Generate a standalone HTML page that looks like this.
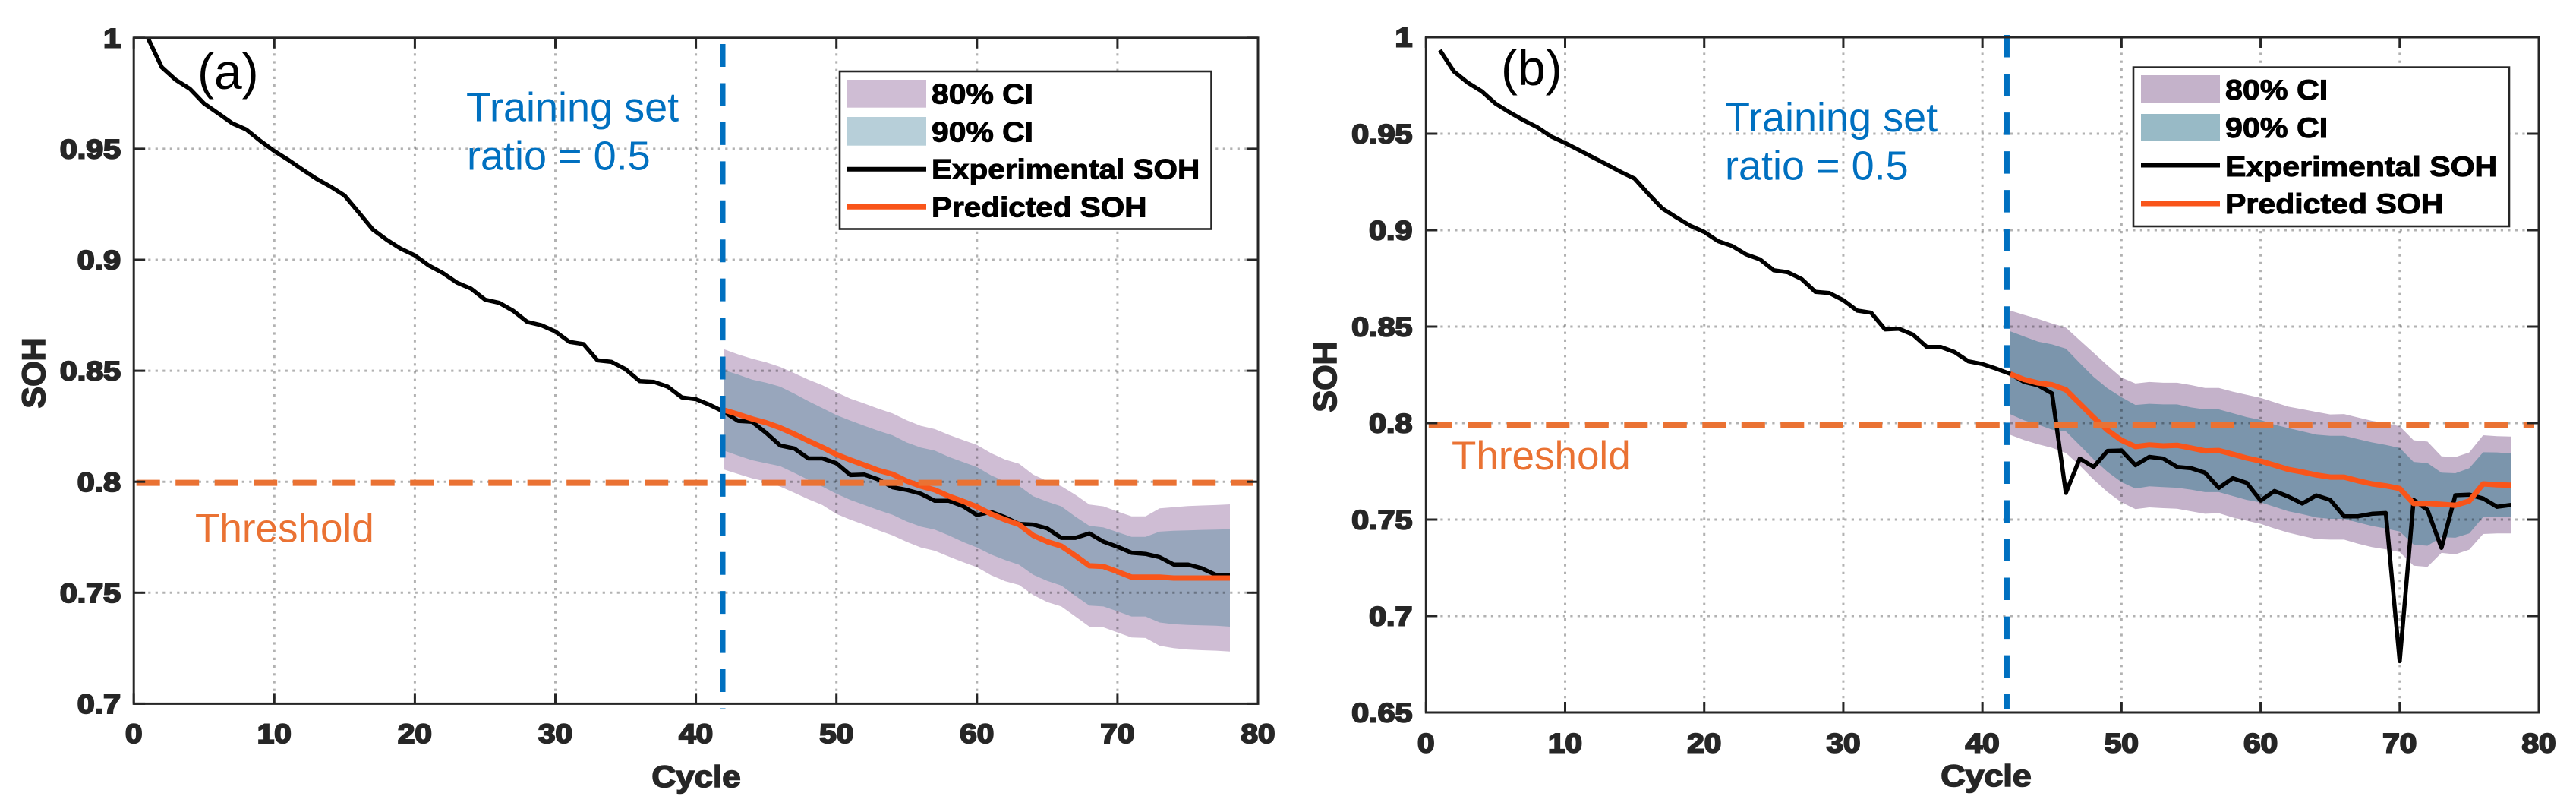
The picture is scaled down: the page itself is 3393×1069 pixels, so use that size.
<!DOCTYPE html>
<html lang="en">
<head>
<meta charset="utf-8">
<title>SOH prediction charts</title>
<style>
html,body{margin:0;padding:0;background:#fff;width:3393px;height:1069px;overflow:hidden}
svg{display:block}
text{font-family:"Liberation Sans",Arial,sans-serif}
.tick{font-size:35.5px;font-weight:bold;fill:#262626;stroke:#262626;stroke-width:2px}
.axt{font-weight:bold;fill:#262626;stroke:#262626;stroke-width:1.6px}
.leg{font-size:37.5px;font-weight:bold;fill:#000;stroke:#000;stroke-width:1px}
.blue{font-size:54px;fill:#0070c0}
.org{font-size:53px;fill:#ea7233}
.tag{font-size:66px;fill:#000}
</style>
</head>
<body>
<svg id="figure" xmlns="http://www.w3.org/2000/svg" width="3393" height="1069" viewBox="0 0 3393 1069">
  <rect x="0" y="0" width="3393" height="1069" fill="#fff"/>

  <g id="panel-a">
    <g id="a-bands"></g>
    <g id="a-grid"></g>
    <g id="a-lines"></g>
    <g id="a-refs"></g>
    <g id="a-ticks"></g>
    <rect x="176.2" y="49.8" width="1480.8" height="876.6" fill="none" stroke="#262626" stroke-width="3"/>
    <g id="a-labels"></g>
    <text class="axt" font-size="40" text-anchor="middle" transform="translate(917,1036) scale(1.1,1)">Cycle</text>
    <text class="axt" font-size="43" text-anchor="middle" transform="translate(59,491) rotate(-90)">SOH</text>
    <text class="tag" x="260" y="117">(a)</text>
    <text class="blue" x="614" y="159.5">Training set</text>
    <text class="blue" x="615" y="223.5">ratio = 0.5</text>
    <text class="org" x="257" y="713.5">Threshold</text>
    <g>
      <rect x="1106" y="94" width="489.5" height="207.5" fill="#fff" stroke="#262626" stroke-width="2.6"/>
      <rect x="1116" y="105" width="104" height="36.7" fill="#cfbdd4"/>
      <rect x="1116" y="154" width="104" height="37.7" fill="#b7cfd9"/>
      <line x1="1116" x2="1220" y1="222.7" y2="222.7" stroke="#000" stroke-width="6"/>
      <line x1="1116" x2="1220" y1="272.3" y2="272.3" stroke="#f9551a" stroke-width="7"/>
      <text class="leg" transform="translate(1227,136.7) scale(1.09,1)">80% CI</text>
      <text class="leg" transform="translate(1227,186.7) scale(1.09,1)">90% CI</text>
      <text class="leg" transform="translate(1227,235.7) scale(1.08,1)">Experimental SOH</text>
      <text class="leg" transform="translate(1227,285.7) scale(1.08,1)">Predicted SOH</text>
    </g>
  </g>

  <g id="panel-b">
    <g id="b-bands"></g>
    <g id="b-grid"></g>
    <g id="b-lines"></g>
    <g id="b-refs"></g>
    <g id="b-ticks"></g>
    <rect x="1878.3" y="49" width="1465.7" height="889" fill="none" stroke="#262626" stroke-width="3"/>
    <g id="b-labels"></g>
    <text class="axt" font-size="40" text-anchor="middle" transform="translate(2616,1035) scale(1.12,1)">Cycle</text>
    <text class="axt" font-size="43" text-anchor="middle" transform="translate(1760,496) rotate(-90)">SOH</text>
    <text class="tag" x="1977" y="112">(b)</text>
    <text class="blue" x="2272" y="173">Training set</text>
    <text class="blue" x="2272" y="236.5">ratio = 0.5</text>
    <text class="org" x="1912" y="618">Threshold</text>
    <g>
      <rect x="2810" y="88.6" width="495" height="209.4" fill="#fff" stroke="#262626" stroke-width="2.6"/>
      <rect x="2820" y="99" width="104" height="36" fill="#c4b2ca"/>
      <rect x="2820" y="150" width="104" height="36" fill="#98bac6"/>
      <line x1="2820" x2="2924" y1="217.5" y2="217.5" stroke="#000" stroke-width="6"/>
      <line x1="2820" x2="2924" y1="268" y2="268" stroke="#f9551a" stroke-width="7"/>
      <text class="leg" transform="translate(2931,131) scale(1.1,1)">80% CI</text>
      <text class="leg" transform="translate(2931,181) scale(1.1,1)">90% CI</text>
      <text class="leg" transform="translate(2931,232) scale(1.095,1)">Experimental SOH</text>
      <text class="leg" transform="translate(2931,281) scale(1.095,1)">Predicted SOH</text>
    </g>
  </g>
</svg>

<script>
// ---- shared axis labels ----
const xTickLabels = ['0','10','20','30','40','50','60','70','80'];
const yTickLabelsA = ['0.7','0.75','0.8','0.85','0.9','0.95','1'];
const yTickLabelsB = ['0.65','0.7','0.75','0.8','0.85','0.9','0.95','1'];
const predictionStartCycle = 42;
const thresholdA = 0.7995;
const thresholdB = 0.7992;
const trainingSplitA = 41.9;
const trainingSplitB = 41.75;

// ---- panel (a): experimental covers cycles 1..78, the rest cycles 42..78 ----
const experimentalA = [1.0,0.9867,0.981,0.977,0.9704,0.966,0.9615,0.9587,0.9536,0.949,0.945,0.9407,0.9365,0.933,0.929,0.9214,0.9137,0.909,0.905,0.902,0.8974,0.894,0.8897,0.887,0.882,0.8806,0.877,0.872,0.8705,0.8677,0.863,0.862,0.8547,0.854,0.8507,0.8453,0.845,0.8428,0.838,0.8372,0.8346,0.8315,0.8274,0.827,0.822,0.8163,0.815,0.8105,0.8105,0.8083,0.803,0.8032,0.801,0.7975,0.7963,0.7946,0.7914,0.7914,0.789,0.785,0.7864,0.784,0.781,0.7807,0.779,0.7747,0.7747,0.7767,0.773,0.7707,0.768,0.7675,0.766,0.7627,0.7627,0.761,0.758,0.758];
const predictedA = [0.8323,0.8304,0.8283,0.8266,0.8243,0.8215,0.8184,0.8155,0.8123,0.8098,0.8075,0.8051,0.8034,0.8003,0.798,0.7963,0.7935,0.7912,0.7887,0.7855,0.7829,0.7807,0.7758,0.773,0.771,0.7667,0.7621,0.7618,0.7595,0.757,0.757,0.757,0.7566,0.7566,0.7566,0.7566,0.7566];
const upper80A = [0.8597,0.8574,0.8554,0.8538,0.8517,0.8489,0.846,0.8435,0.8403,0.8374,0.8352,0.8329,0.8308,0.8277,0.8252,0.8237,0.8211,0.8188,0.8166,0.8129,0.81,0.8081,0.8032,0.8003,0.798,0.7941,0.7897,0.7889,0.7866,0.7844,0.7844,0.788,0.7885,0.789,0.7893,0.7895,0.7898];
const lower80A = [0.8055,0.8035,0.8015,0.8001,0.7978,0.795,0.7921,0.7895,0.7855,0.7829,0.7806,0.7781,0.7758,0.7729,0.7704,0.7689,0.7663,0.7638,0.7615,0.7579,0.7552,0.7535,0.749,0.7458,0.7438,0.7393,0.7347,0.7344,0.7321,0.7298,0.7296,0.7261,0.725,0.7244,0.7241,0.7239,0.7235];
const upper90A = [0.8503,0.8483,0.846,0.8446,0.8428,0.8397,0.8363,0.8332,0.83,0.8275,0.8252,0.8229,0.8209,0.8177,0.8154,0.814,0.8112,0.8089,0.8066,0.8029,0.8001,0.7981,0.7935,0.791,0.7889,0.7843,0.7801,0.7794,0.7773,0.7752,0.7752,0.7775,0.7779,0.7781,0.7783,0.7784,0.7786];
const lower90A = [0.814,0.8118,0.8097,0.8083,0.807,0.804,0.8009,0.7978,0.7946,0.7918,0.7895,0.7872,0.7851,0.7821,0.7798,0.7784,0.7758,0.7729,0.7704,0.7672,0.7647,0.7626,0.7581,0.7553,0.7532,0.7486,0.7442,0.7438,0.7416,0.7393,0.7393,0.7366,0.7358,0.7355,0.7353,0.7351,0.7347];

// ---- panel (b) ----
const experimentalB = [0.9933,0.9823,0.9764,0.972,0.9656,0.9611,0.957,0.9533,0.9485,0.9452,0.9415,0.9377,0.934,0.9302,0.9267,0.9187,0.9112,0.9066,0.9023,0.8991,0.8943,0.8918,0.8875,0.8849,0.8792,0.8782,0.8747,0.868,0.8674,0.8637,0.8583,0.8572,0.8486,0.8489,0.8459,0.8395,0.8395,0.8368,0.832,0.8306,0.8282,0.8255,0.8213,0.8196,0.8154,0.7638,0.7816,0.7773,0.7856,0.7858,0.7782,0.7825,0.7816,0.7773,0.7766,0.7743,0.7664,0.7714,0.769,0.7598,0.7648,0.7619,0.7583,0.7625,0.7602,0.7517,0.7517,0.753,0.7534,0.6766,0.7602,0.755,0.7353,0.7626,0.7629,0.7609,0.7566,0.7576];
const predictedB = [0.8255,0.8226,0.8208,0.8199,0.8173,0.8101,0.8029,0.7963,0.7911,0.7878,0.7887,0.7882,0.7885,0.7871,0.7856,0.7858,0.7839,0.7819,0.7803,0.7782,0.776,0.7747,0.7731,0.772,0.772,0.7701,0.7685,0.7675,0.7661,0.7583,0.7583,0.7579,0.7574,0.7596,0.7685,0.768,0.7678];
const upper80B = [0.8583,0.8561,0.854,0.8516,0.8495,0.8429,0.8364,0.8298,0.8236,0.8205,0.8213,0.8209,0.8209,0.8197,0.8182,0.8182,0.8163,0.8147,0.8131,0.8108,0.8085,0.8072,0.8058,0.8045,0.8047,0.8029,0.8012,0.8,0.7983,0.7911,0.7904,0.7828,0.7824,0.7848,0.7937,0.7932,0.793];
const lower80B = [0.7939,0.7912,0.789,0.7872,0.7845,0.778,0.7707,0.7642,0.7589,0.7554,0.7563,0.7559,0.7556,0.7543,0.753,0.7533,0.7511,0.7494,0.7478,0.7454,0.7432,0.7415,0.7399,0.7396,0.7396,0.7375,0.7357,0.7346,0.7331,0.7261,0.7255,0.7327,0.732,0.7344,0.7425,0.7428,0.7428];
const upper90B = [0.8476,0.8449,0.8422,0.8408,0.8386,0.8311,0.8239,0.818,0.8134,0.8094,0.81,0.8097,0.8097,0.8081,0.8071,0.8071,0.8051,0.8031,0.8016,0.7992,0.7974,0.7957,0.794,0.7934,0.7934,0.7917,0.79,0.7887,0.7871,0.7799,0.7793,0.7743,0.774,0.7766,0.7849,0.7848,0.7843];
const lower90B = [0.8046,0.8014,0.7992,0.7966,0.7957,0.7885,0.7812,0.7747,0.7694,0.7661,0.7672,0.7668,0.7665,0.7655,0.7642,0.7642,0.7622,0.7602,0.7589,0.7566,0.7543,0.7528,0.7511,0.7504,0.7504,0.7485,0.7467,0.7454,0.7438,0.737,0.7364,0.7409,0.7406,0.7428,0.7513,0.7513,0.7513];

const SVGNS = 'http://www.w3.org/2000/svg';

function make(tag, parent, attrs) {
  const el = document.createElementNS(SVGNS, tag);
  for (const k in attrs) el.setAttribute(k, attrs[k]);
  parent.appendChild(el);
  return el;
}

function linePath(xs, ys) {
  return xs.map((x, i) => (i ? 'L' : 'M') + x.toFixed(1) + ' ' + ys[i].toFixed(1)).join(' ');
}

function drawPanel(p) {
  const xScale = c => p.left + (c - 0) * (p.right - p.left) / 80;
  const yScale = v => p.bottom - (v - p.yMin) * (p.bottom - p.top) / (1 - p.yMin);
  const bandCycles = p.predicted.map((_, i) => predictionStartCycle + i);

  function band(upper, lower, fill, name) {
    const top = upper.map((v, i) => (i ? 'L' : 'M') + xScale(bandCycles[i]).toFixed(1) + ' ' + yScale(v).toFixed(1));
    const bot = lower.map((v, i) => 'L' + xScale(bandCycles[i]).toFixed(1) + ' ' + yScale(v).toFixed(1)).reverse();
    const el = make('path', p.bands, { d: top.concat(bot).join(' ') + ' Z', fill: fill });
    
    
  }
  band(p.upper80, p.lower80, p.color80, 'band-80-ci');
  band(p.upper90, p.lower90, p.color90, 'band-90-ci');

  // grid
  xTickLabels.forEach(lbl => {
    const v = Number(lbl);
    if (v === 0 || v === 80) return;
    const el = make('line', p.grid, { x1: xScale(v), x2: xScale(v), y1: p.top, y2: p.bottom, stroke: '#000', 'stroke-opacity': 0.3, 'stroke-width': 3, 'stroke-dasharray': '3.2 7' });
    
    
  });
  p.yLabels.forEach(lbl => {
    const v = Number(lbl);
    if (v === p.yMin || v === 1) return;
    const el = make('line', p.grid, { x1: p.left, x2: p.right, y1: yScale(v), y2: yScale(v), stroke: '#000', 'stroke-opacity': 0.3, 'stroke-width': 3, 'stroke-dasharray': '3.2 6.3' });
    
    
  });

  // series
  const expXs = p.experimental.map((_, i) => xScale(i + 1));
  const expYs = p.experimental.map(v => yScale(v));
  const expLine = make('path', p.lines, { d: linePath(expXs, expYs), fill: 'none', stroke: '#000', 'stroke-width': 5.5, 'stroke-linejoin': 'round' });
  
  

  const predLine = make('path', p.lines, { d: linePath(bandCycles.map(xScale), p.predicted.map(yScale)), fill: 'none', stroke: '#f9551a', 'stroke-width': 7, 'stroke-linejoin': 'round' });
  
  

  // reference lines
  const th = make('line', p.refs, { x1: p.left + 3.5, x2: p.right - 6, y1: yScale(p.threshold), y2: yScale(p.threshold), stroke: '#ea7233', 'stroke-width': 8, 'stroke-dasharray': '31 20.5' });
  
  
  const sp = make('line', p.refs, { x1: xScale(p.split), x2: xScale(p.split), y1: p.splitTop, y2: p.splitBottom, stroke: '#0070c0', 'stroke-width': 7.5, 'stroke-dasharray': p.splitDash });
  
  

  // ticks and tick labels
  xTickLabels.forEach(lbl => {
    const x = xScale(Number(lbl));
    const t1 = make('line', p.ticks, { x1: x, x2: x, y1: p.bottom, y2: p.bottom - 14, stroke: '#262626', 'stroke-width': 3 });
    
    
    const t2 = make('line', p.ticks, { x1: x, x2: x, y1: p.top, y2: p.top + 14, stroke: '#262626', 'stroke-width': 3 });
    
    
    const tx = make('text', p.labels, { class: 'tick', 'text-anchor': 'middle', transform: 'translate(' + x + ',' + p.xLabelY + ') scale(1.14,1)' });
    
    
    tx.textContent = lbl;
  });
  p.yLabels.forEach(lbl => {
    const y = yScale(Number(lbl));
    const t1 = make('line', p.ticks, { x1: p.left, x2: p.left + 15, y1: y, y2: y, stroke: '#262626', 'stroke-width': 3 });
    
    
    const t2 = make('line', p.ticks, { x1: p.right, x2: p.right - 15, y1: y, y2: y, stroke: '#262626', 'stroke-width': 3 });
    
    
    const tx = make('text', p.labels, { class: 'tick', 'text-anchor': 'end', transform: 'translate(' + p.yLabelX + ',' + (y + 12.6) + ') scale(1.16,1)' });
    
    
    tx.textContent = lbl;
  });
}

drawPanel({
  left: 176.2, right: 1657, top: 49.8, bottom: 926.4, yMin: 0.7,
  yLabels: yTickLabelsA, xLabelY: 978, yLabelX: 159,
  experimental: experimentalA, predicted: predictedA,
  upper80: upper80A, lower80: lower80A, upper90: upper90A, lower90: lower90A,
  color80: '#cfbdd4', color90: '#98a6bc',
  threshold: thresholdA, split: trainingSplitA, splitTop: 58, splitBottom: 934, splitDash: '30 21.44',
  bands: document.getElementById('a-bands'), grid: document.getElementById('a-grid'),
  lines: document.getElementById('a-lines'), refs: document.getElementById('a-refs'),
  ticks: document.getElementById('a-ticks'), labels: document.getElementById('a-labels')
});

drawPanel({
  left: 1878.3, right: 3344, top: 49, bottom: 938, yMin: 0.65,
  yLabels: yTickLabelsB, xLabelY: 990.5, yLabelX: 1860.4,
  experimental: experimentalB, predicted: predictedB,
  upper80: upper80B, lower80: lower80B, upper90: upper90B, lower90: lower90B,
  color80: '#c4b2ca', color90: '#7b95ac',
  threshold: thresholdB, split: trainingSplitB, splitTop: 46, splitBottom: 934, splitDash: '29.5 21.54',
  bands: document.getElementById('b-bands'), grid: document.getElementById('b-grid'),
  lines: document.getElementById('b-lines'), refs: document.getElementById('b-refs'),
  ticks: document.getElementById('b-ticks'), labels: document.getElementById('b-labels')
});
</script>
</body>
</html>
